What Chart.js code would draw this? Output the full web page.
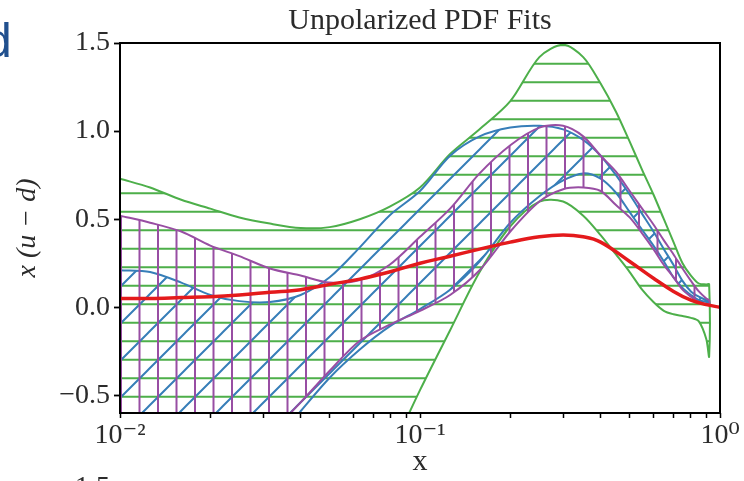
<!DOCTYPE html>
<html>
<head>
<meta charset="utf-8">
<script src="https://cdn.jsdelivr.net/npm/chart.js@4.4.1/dist/chart.umd.min.js"></script>
<style>
  html, body { margin: 0; padding: 0; background: #fff; }
  #wrap { position: relative; width: 744px; height: 481px; overflow: hidden; }
  #chart { position: absolute; left: 0; top: 0; }
  .bleed { position: absolute; white-space: nowrap; }
  #leftD { left: -15px; top: 17px; font: 48px/1 "Liberation Sans", Arial, sans-serif; color: #21508e; }
  #nextTick { right: 634px; top: 472px; font: 28px/1 "Liberation Serif", serif; color: #2b2b2b; }
</style>
</head>
<body>
<div id="wrap">
  <canvas id="chart" width="744" height="481"></canvas>
  <span class="bleed" id="leftD">d</span>
  <span class="bleed" id="nextTick">1.5</span>
</div>
<script>
// x grid shared by the three bands
const bandX = [0.01, 0.0126, 0.016, 0.02, 0.025, 0.0316, 0.04, 0.05, 0.063, 0.079, 0.1, 0.126, 0.158, 0.2, 0.25,
               0.3, 0.35, 0.4, 0.45, 0.5, 0.55, 0.6, 0.65, 0.7, 0.75, 0.8, 0.85, 0.9, 0.92];

// green (horizontal hatch)
const greenUpper = [0.73, 0.68, 0.61, 0.56, 0.51, 0.475, 0.45, 0.455, 0.50, 0.57, 0.68, 0.87, 1.01, 1.17, 1.42,
                    1.49, 1.42, 1.27, 1.11, 0.94, 0.78, 0.64, 0.50, 0.37, 0.25, 0.18, 0.135, 0.13, 0.13];
const greenLower = [-3.2, -3.0, -2.8, -2.6, -2.4, -2.1, -1.8, -1.5, -1.17, -0.84, -0.47, -0.13, 0.20, 0.46, 0.60,
                    0.60, 0.52, 0.41, 0.30, 0.20, 0.10, 0.03, -0.02, -0.04, -0.05, -0.06, -0.08, -0.18, -0.28];

// blue (diagonal hatch)
const blueUpper = [0.21, 0.20, 0.14, 0.07, 0.035, 0.03, 0.07, 0.17, 0.34, 0.52, 0.66, 0.86, 0.97, 1.02, 1.03,
                   1.01, 0.95, 0.86, 0.75, 0.64, 0.53, 0.43, 0.33, 0.24, 0.15, 0.09, 0.06, 0.04, 0.03];
const blueLower = [-1.8, -1.6, -1.4, -1.2, -1.0, -0.8, -0.59, -0.40, -0.24, -0.11, -0.01, 0.10, 0.26, 0.48, 0.63,
                   0.72, 0.76, 0.73, 0.65, 0.54, 0.44, 0.35, 0.26, 0.17, 0.11, 0.07, 0.04, 0.03, 0.02];

// purple (vertical hatch)
const purpleUpper = [0.52, 0.48, 0.43, 0.35, 0.29, 0.22, 0.18, 0.14, 0.155, 0.24, 0.40, 0.56, 0.76, 0.92, 1.02,
                     1.03, 0.97, 0.86, 0.77, 0.66, 0.56, 0.47, 0.38, 0.30, 0.22, 0.15, 0.09, 0.05, 0.04];
const purpleLower = [-1.5, -1.35, -1.2, -1.05, -0.9, -0.72, -0.54, -0.36, -0.19, -0.10, -0.02, 0.07, 0.21, 0.43, 0.60,
                     0.67, 0.68, 0.66, 0.58, 0.51, 0.42, 0.33, 0.24, 0.17, 0.10, 0.06, 0.03, 0.02, 0.02];

// red central fit
const redX = [0.01, 0.0126, 0.016, 0.02, 0.025, 0.0316, 0.04, 0.05, 0.063, 0.079, 0.1, 0.126, 0.158, 0.2, 0.25,
              0.3, 0.35, 0.4, 0.5, 0.6, 0.7, 0.8, 0.9, 1.0];
const redY = [0.05, 0.05, 0.055, 0.06, 0.07, 0.085, 0.10, 0.13, 0.16, 0.20, 0.25, 0.29, 0.33, 0.37, 0.40,
              0.41, 0.40, 0.37, 0.26, 0.165, 0.09, 0.04, 0.015, 0.0];

// ticks
const xTicks = [0.01, 0.02, 0.03, 0.04, 0.05, 0.06, 0.07, 0.08, 0.09,
                0.1, 0.2, 0.3, 0.4, 0.5, 0.6, 0.7, 0.8, 0.9, 1];
const xMajor = [0.01, 0.1, 1];
const xMajorLabels = ['10⁻²', '10⁻¹', '10⁰'];
const yTicks = [-0.5, 0, 0.5, 1.0, 1.5];

const serif = "'Liberation Serif', 'DejaVu Serif', serif";
const textColor = '#2b2b2b';

// closed outline: upper edge left to right, lower edge back
function bandShape(upper, lower) {
  let pts = [];
  for (let i = 0; i < bandX.length; i++) pts.push({ x: bandX[i], y: upper[i] });
  for (let i = bandX.length - 1; i >= 0; i--) pts.push({ x: bandX[i], y: lower[i] });
  return pts;
}

function hatch(color, drawLines) {
  const tile = document.createElement('canvas');
  tile.width = 37;
  tile.height = 37;
  const g = tile.getContext('2d');
  g.strokeStyle = color;
  g.lineWidth = 2;
  g.beginPath();
  drawLines(g);
  g.stroke();
  return g.createPattern(tile, 'repeat');
}

const greenHatch = hatch('#4daf4a', g => {
  g.moveTo(0, 8.3); g.lineTo(37, 8.3);
  g.moveTo(0, 26.8); g.lineTo(37, 26.8);
});
const purpleHatch = hatch('#984ea3', g => {
  g.moveTo(10, 0); g.lineTo(10, 37);
  g.moveTo(28.5, 0); g.lineTo(28.5, 37);
});
const blueHatch = hatch('#377eb8', g => {
  g.moveTo(-2, 39); g.lineTo(39, -2);
  g.moveTo(-2, 2); g.lineTo(2, -2);
  g.moveTo(35, 39); g.lineTo(39, 35);
});

const frame = {
  id: 'frame',
  afterDatasetsDraw(chart) {
    const a = chart.chartArea;
    const c = chart.ctx;
    c.save();
    c.strokeStyle = '#000';
    c.lineWidth = 2;
    c.strokeRect(a.left, a.top, a.right - a.left, a.bottom - a.top);
    c.restore();
  }
};

let redPts = redX.map((x, i) => ({ x: x, y: redY[i] }));

new Chart(document.getElementById('chart'), {
  type: 'scatter',
  data: {
    datasets: [
      { data: redPts, showLine: true, borderColor: '#e41a1c', borderWidth: 3.5, pointRadius: 0,
        fill: false, tension: 0.4, order: 0 },
      { data: bandShape(purpleUpper, purpleLower), showLine: true, borderColor: '#984ea3', borderWidth: 2,
        backgroundColor: purpleHatch, pointRadius: 0, fill: 'shape', tension: 0.3, order: 1 },
      { data: bandShape(blueUpper, blueLower), showLine: true, borderColor: '#377eb8', borderWidth: 2,
        backgroundColor: blueHatch, pointRadius: 0, fill: 'shape', tension: 0.3, order: 2 },
      { data: bandShape(greenUpper, greenLower), showLine: true, borderColor: '#4daf4a', borderWidth: 2,
        backgroundColor: greenHatch, pointRadius: 0, fill: 'shape', tension: 0.3, order: 3 }
    ]
  },
  options: {
    responsive: false,
    animation: false,
    events: [],
    elements: { line: { capBezierPoints: false } },
    layout: { padding: { left: 0, right: 24, top: 0, bottom: 0 } },
    plugins: {
      legend: { display: false },
      tooltip: { enabled: false },
      title: {
        display: true,
        text: 'Unpolarized PDF Fits',
        fullSize: false,
        color: textColor,
        font: { family: serif, size: 30, weight: 'normal' },
        padding: { top: 3, bottom: 4 }
      }
    },
    scales: {
      x: {
        type: 'logarithmic',
        min: 0.01,
        max: 1,
        afterBuildTicks: s => { s.ticks = xTicks.map(v => ({ value: v, major: xMajor.includes(v) })); },
        afterFit: s => { s.height = 68; },
        ticks: {
          autoSkip: false,
          maxRotation: 0,
          padding: 1,
          color: textColor,
          font: { family: serif, size: 28 },
          callback: function(v) {
            let i = xMajor.findIndex(m => Math.abs(m - v) < 1e-9);
            return i >= 0 ? xMajorLabels[i] : '';
          }
        },
        grid: { drawOnChartArea: false, tickLength: 5, color: '#000', tickWidth: 1.5 },
        border: { display: false },
        title: { display: true, text: 'x', color: textColor,
                 font: { family: serif, size: 30, lineHeight: 1 }, padding: { top: 0, bottom: 4 } }
      },
      y: {
        min: -0.6,
        max: 1.5,
        afterBuildTicks: s => { s.ticks = yTicks.map(v => ({ value: v })); },
        afterFit: s => { s.width = 120; },
        ticks: {
          padding: 4,
          color: textColor,
          font: { family: serif, size: 28 },
          callback: v => v.toFixed(1).replace('-', '−')
        },
        grid: { drawOnChartArea: false, tickLength: 6, color: '#000', tickWidth: 1.8 },
        border: { display: false },
        title: { display: true, text: 'x (u − d)', color: textColor,
                 font: { family: serif, size: 28, style: 'italic', lineHeight: 1.2 }, padding: { top: 11, bottom: 0 } }
      }
    }
  },
  plugins: [frame]
});
</script>
</body>
</html>
